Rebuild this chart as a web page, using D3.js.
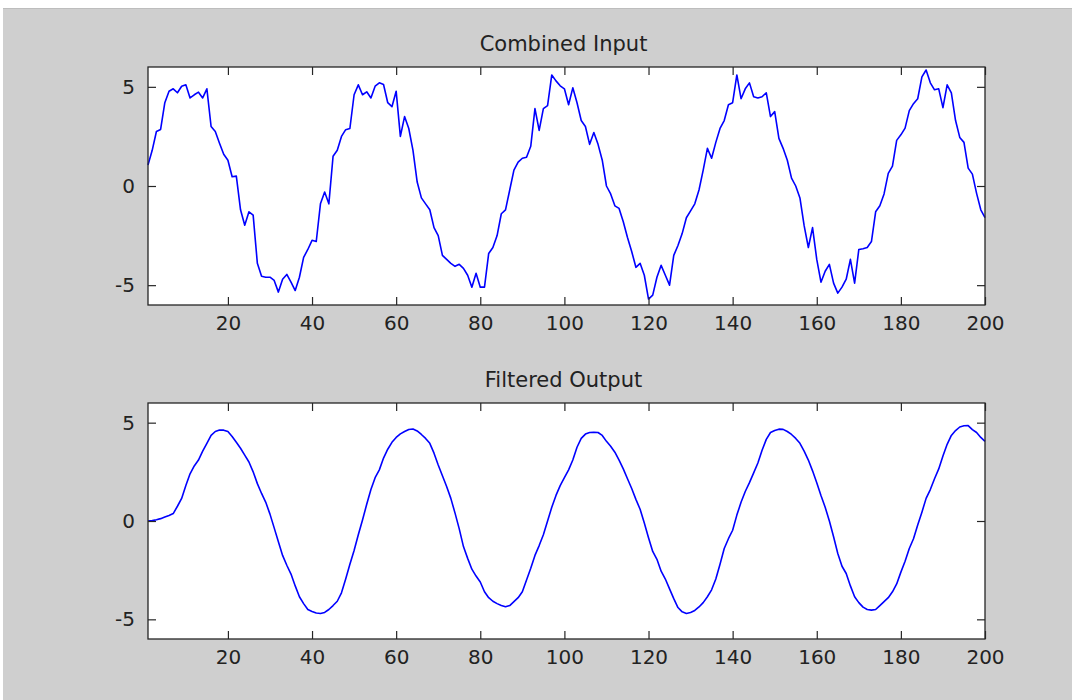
<!DOCTYPE html>
<html>
<head>
<meta charset="utf-8">
<script src="https://cdn.jsdelivr.net/npm/d3@7"></script>
<style>
  html, body { margin: 0; padding: 0; background: #ffffff; }
  svg { display: block; }
  .tick text { font-family: "DejaVu Sans", sans-serif; font-size: 20px; fill: #222222; }
  .title { font-family: "DejaVu Sans", sans-serif; font-size: 21px; fill: #222222; }
</style>
</head>
<body>
<script>
// ---------- data ----------
const sampleIndex = d3.range(1, 201);

const combinedInput = [
  1.06, 1.8, 2.75, 2.85, 4.2, 4.78, 4.9, 4.7, 5.03, 5.1,
  4.44, 4.6, 4.73, 4.44, 4.9, 3.0, 2.75, 2.16, 1.6, 1.3,
  0.47, 0.5, -1.2, -1.98, -1.3, -1.47, -3.9, -4.55, -4.6, -4.6,
  -4.76, -5.35, -4.7, -4.46, -4.85, -5.27, -4.6, -3.6, -3.2, -2.74,
  -2.8, -0.9, -0.3, -0.9, 1.5, 1.8, 2.5, 2.84, 2.9, 4.6,
  5.1, 4.6, 4.75, 4.44, 5.03, 5.2, 5.12, 4.2, 4.0, 4.78,
  2.5, 3.5, 2.9, 1.8, 0.2, -0.6, -0.9, -1.2, -2.1, -2.5,
  -3.5, -3.7, -3.9, -4.05, -3.95, -4.15, -4.5, -5.1, -4.4, -5.1,
  -5.1, -3.4, -3.1, -2.5, -1.4, -1.2, -0.2, 0.8, 1.2, 1.4,
  1.45, 2.0, 3.9, 2.8, 3.9, 4.05, 5.6, 5.3, 5.05, 4.9,
  4.1, 4.95, 4.2, 3.3, 3.0, 2.1, 2.7, 2.1, 1.3, 0.0,
  -0.4, -1.0, -1.13, -1.8, -2.6, -3.3, -4.1, -3.9, -4.5, -5.7,
  -5.5, -4.6, -4.0, -4.5, -5.0, -3.5, -3.0, -2.4, -1.6, -1.25,
  -0.9, -0.2, 0.8, 1.9, 1.4, 2.2, 2.9, 3.3, 4.1, 4.2,
  5.6, 4.4, 4.9, 5.2, 4.5, 4.44, 4.5, 4.7, 3.5, 3.75,
  2.4, 1.9, 1.3, 0.4, 0.0, -0.6, -2.0, -3.1, -2.1, -3.7,
  -4.85, -4.3, -3.95, -4.9, -5.4, -5.1, -4.7, -3.7, -4.9, -3.2,
  -3.16, -3.1, -2.8, -1.3, -1.0, -0.4, 0.64, 1.0, 2.3, 2.58,
  2.92, 3.8, 4.15, 4.4, 5.5, 5.85, 5.2, 4.85, 4.9, 3.95,
  5.1, 4.7, 3.3, 2.45, 2.2, 0.9, 0.6, -0.37, -1.2, -1.6
];

const filteredOutput = [
  0.0, 0.02, 0.06, 0.12, 0.2, 0.28, 0.38, 0.75, 1.15, 1.8,
  2.4, 2.8, 3.1, 3.55, 3.95, 4.35, 4.55, 4.63, 4.62, 4.55,
  4.3, 4.0, 3.7, 3.35, 3.0, 2.5, 1.9, 1.4, 0.95, 0.35,
  -0.35, -1.05, -1.75, -2.25, -2.7, -3.3, -3.85, -4.2, -4.5, -4.6,
  -4.68, -4.7, -4.65, -4.5, -4.3, -4.08, -3.65, -2.95, -2.2, -1.5,
  -0.7, 0.05, 0.85, 1.6, 2.2, 2.6, 3.2, 3.65, 4.0, 4.25,
  4.43, 4.55, 4.65, 4.68, 4.58, 4.4, 4.2, 3.95, 3.45, 2.85,
  2.3, 1.75, 1.15, 0.4, -0.4, -1.3, -1.9, -2.45, -2.8, -3.1,
  -3.6, -3.9, -4.08, -4.2, -4.3, -4.36, -4.3, -4.1, -3.9, -3.6,
  -3.0, -2.4, -1.75, -1.25, -0.7, 0.0, 0.7, 1.3, 1.8, 2.2,
  2.6, 3.1, 3.75, 4.2, 4.42, 4.5, 4.51, 4.5, 4.35, 4.05,
  3.8, 3.5, 3.1, 2.65, 2.15, 1.65, 1.1, 0.6, -0.1, -0.85,
  -1.55, -1.95, -2.55, -2.95, -3.45, -3.95, -4.4, -4.62, -4.7, -4.65,
  -4.55, -4.37, -4.15, -3.85, -3.5, -2.95, -2.2, -1.4, -0.9, -0.47,
  0.3, 0.95, 1.5, 1.95, 2.45, 2.95, 3.6, 4.15, 4.5, 4.6,
  4.67, 4.66, 4.55, 4.4, 4.2, 3.95, 3.55, 3.1, 2.55, 1.95,
  1.3, 0.7, 0.0, -0.8, -1.65, -2.3, -2.67, -3.3, -3.85, -4.15,
  -4.38, -4.5, -4.53, -4.5, -4.3, -4.1, -3.9, -3.6, -3.2, -2.6,
  -2.05, -1.4, -0.9, -0.2, 0.45, 1.15, 1.6, 2.15, 2.65, 3.3,
  3.9, 4.35, 4.6, 4.78, 4.84, 4.85, 4.65, 4.5, 4.25, 4.05
];

const xTicks = [20, 40, 60, 80, 100, 120, 140, 160, 180, 200];
const yTicks = [-5, 0, 5];
const xDomain = [1, 200];
const yDomain = [-6, 6];
const panelTitles = ["Combined Input", "Filtered Output"];

// ---------- drawing ----------
const W = 1072, H = 700;
const svg = d3.select("body").append("svg").attr("width", W).attr("height", H);

svg.append("rect").attr("x", 0).attr("y", 0).attr("width", W).attr("height", H).attr("fill", "#ffffff");
svg.append("rect").attr("x", 3).attr("y", 8).attr("width", W - 3).attr("height", H - 8).attr("fill", "#cfcfcf");
svg.append("line").attr("x1", 3).attr("x2", W).attr("y1", 8.5).attr("y2", 8.5).attr("stroke", "#bdbdbd").attr("stroke-width", 1);

const left = 148, right = 985;
const panels = [
  { top: 67, bottom: 305, data: combinedInput, title: panelTitles[0] },
  { top: 403, bottom: 639, data: filteredOutput, title: panelTitles[1] }
];

const x = d3.scaleLinear().domain(xDomain).range([left, right]);
const fmt = d => String(d);   // plain hyphen-minus like the reference

panels.forEach(p => {
  const y = d3.scaleLinear().domain(yDomain).range([p.bottom, p.top]);
  const g = svg.append("g");

  g.append("rect")
    .attr("x", left).attr("y", p.top)
    .attr("width", right - left).attr("height", p.bottom - p.top)
    .attr("fill", "#ffffff");

  const line = d3.line()
    .x((d, i) => x(sampleIndex[i]))
    .y(d => y(d));

  g.append("path")
    .datum(p.data)
    .attr("fill", "none")
    .attr("stroke", "#0000ff")
    .attr("stroke-width", 1.6)
    .attr("stroke-linejoin", "round")
    .attr("d", line);

  const axStyle = sel => {
    sel.select(".domain").remove();
    sel.selectAll(".tick line").attr("stroke", "#262626").attr("stroke-width", 1.2);
  };

  g.append("g").attr("transform", `translate(0,${p.bottom})`)
    .call(d3.axisBottom(x).tickValues(xTicks).tickSize(-8).tickPadding(11).tickFormat(fmt))
    .call(axStyle);
  g.append("g").attr("transform", `translate(0,${p.top})`)
    .call(d3.axisTop(x).tickValues(xTicks).tickSize(-8).tickFormat(""))
    .call(axStyle);
  g.append("g").attr("transform", `translate(${left},0)`)
    .call(d3.axisLeft(y).tickValues(yTicks).tickSize(-8).tickPadding(13).tickFormat(fmt))
    .call(axStyle);
  g.append("g").attr("transform", `translate(${right},0)`)
    .call(d3.axisRight(y).tickValues(yTicks).tickSize(-8).tickFormat(""))
    .call(axStyle);

  g.selectAll(".tick text").attr("fill", "#222222");

  g.append("rect")
    .attr("x", left).attr("y", p.top)
    .attr("width", right - left).attr("height", p.bottom - p.top)
    .attr("fill", "none").attr("stroke", "#262626").attr("stroke-width", 1.3);

  g.append("text")
    .attr("class", "title")
    .attr("x", (left + right) / 2 - 3)
    .attr("y", p.top - 16)
    .attr("text-anchor", "middle")
    .text(p.title);
});
</script>
</body>
</html>
